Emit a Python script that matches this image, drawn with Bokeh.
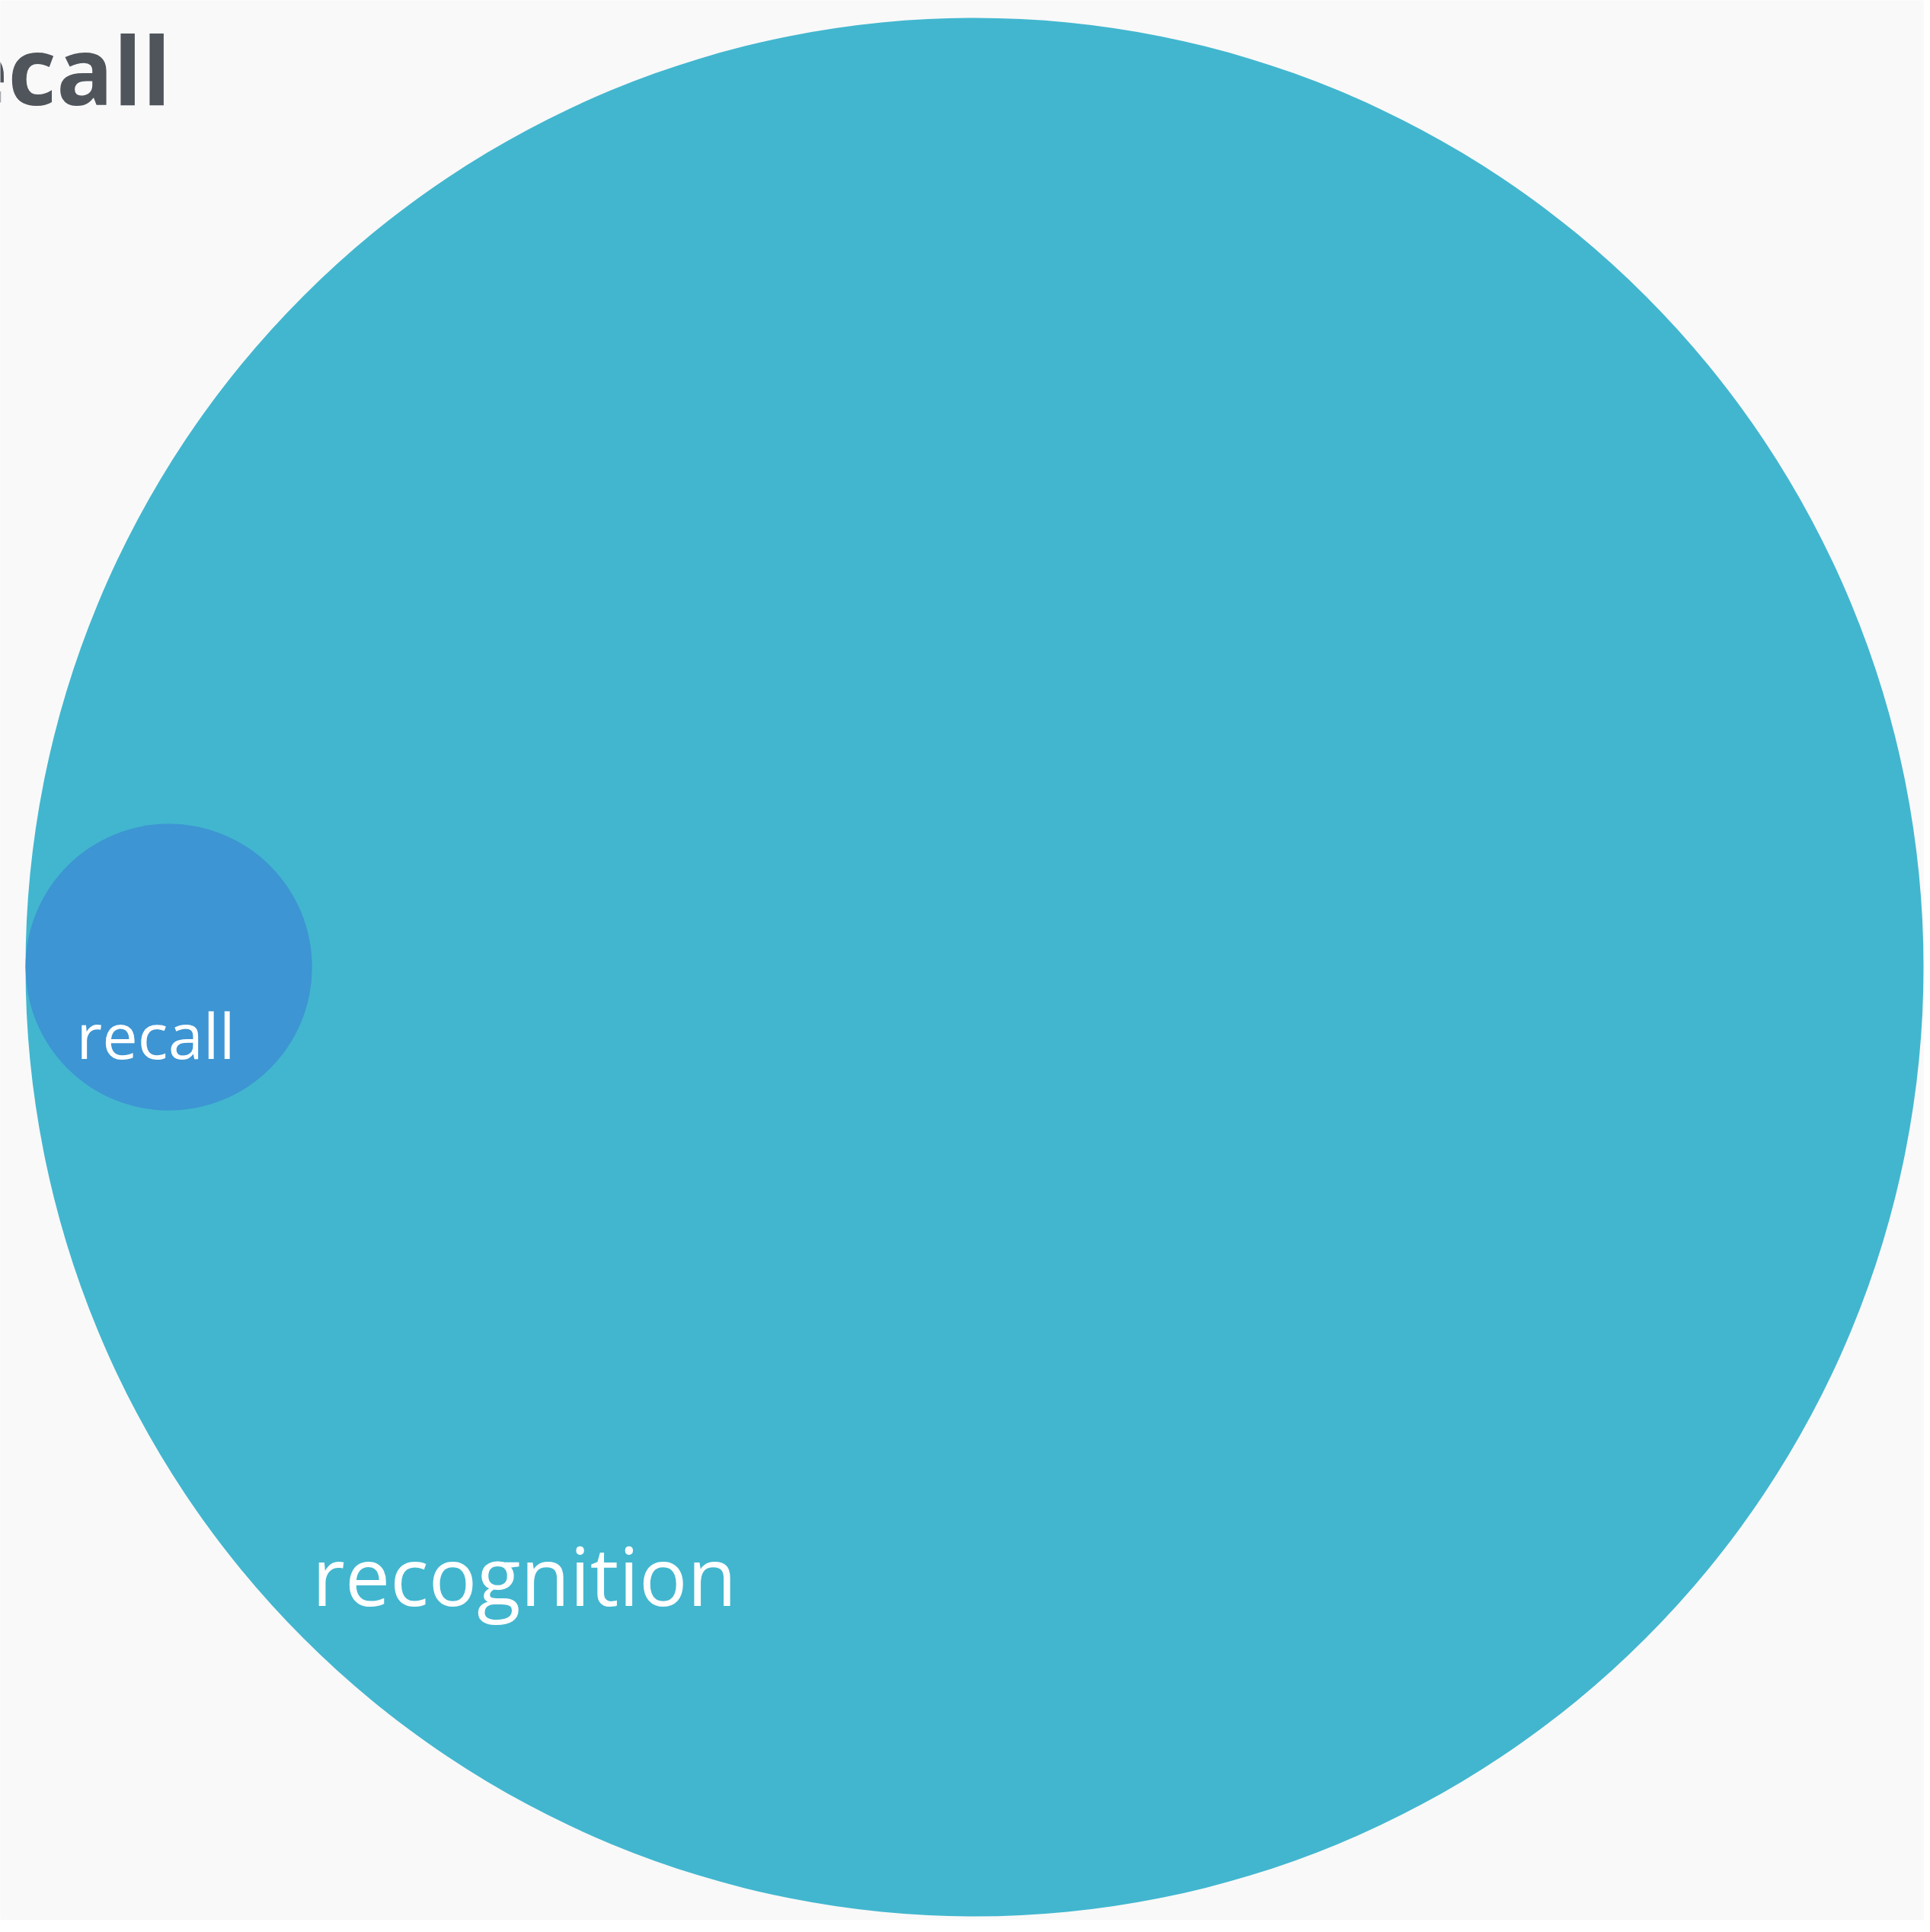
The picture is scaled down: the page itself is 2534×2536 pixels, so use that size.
import math
from bokeh.plotting import figure
from bokeh.models import Range1d, ColumnDataSource
from bokeh.core.properties import value
from bokeh.embed import file_html
from bokeh.resources import INLINE

# ---- data ----
sets = ["recognition", "recall"]
set_sizes = [100.0, 2.28]          # recall is a small subset of recognition
set_colors = ["#42b6cf", "#3d95d3"]
title_text = "Recognition vs. recall"

# ---- layout (screen-pixel data space) ----
W, H = 2526, 2520
p = figure(width=W, height=H, output_backend="svg", toolbar_location=None,
           x_range=Range1d(0, W), y_range=Range1d(H, 0),
           min_border=0, background_fill_color="#f9f9f9",
           border_fill_color="#f9f9f9", outline_line_color=None)
p.axis.visible = False
p.grid.visible = False

# area-proportional venn, outer set radius in px
R_big = 1246.0
scale = R_big / math.sqrt(set_sizes[0])
radii = [scale * math.sqrt(s) for s in set_sizes]
cx_big, cy_big = 1279.0, 1269.0
# subset circle internally tangent on the left side
cxs = [cx_big, cx_big - (radii[0] - radii[1])]
cys = [cy_big, cy_big]

src = ColumnDataSource(dict(x=cxs, y=cys, r=radii, color=set_colors, name=sets))
p.circle(x="x", y="y", radius="r", fill_color="color", line_color=None, source=src)

BL = 0.38  # baseline correction factor (em)

# labels
label_x = [688, 204]
label_base = [2107, 1389]
label_fs = [105.5, 83]
for name, lx, ly, fs in zip(sets, label_x, label_base, label_fs):
    p.text(x=[lx], y=[ly - BL * fs], text=[name], text_color="white",
           text_font=value("Open Sans"), text_font_size=f"{fs}px",
           text_align="center", text_baseline="alphabetic")

# title (cut off at the left edge as in the original)
tfs = 124
p.text(x=[224], y=[136 - BL * tfs], text=[title_text], text_color="#50555c",
       text_font=value("Open Sans"), text_font_style="bold",
       text_font_size=f"{tfs}px", text_align="right", text_baseline="alphabetic")

open("out.html", "w").write(file_html(p, INLINE))
